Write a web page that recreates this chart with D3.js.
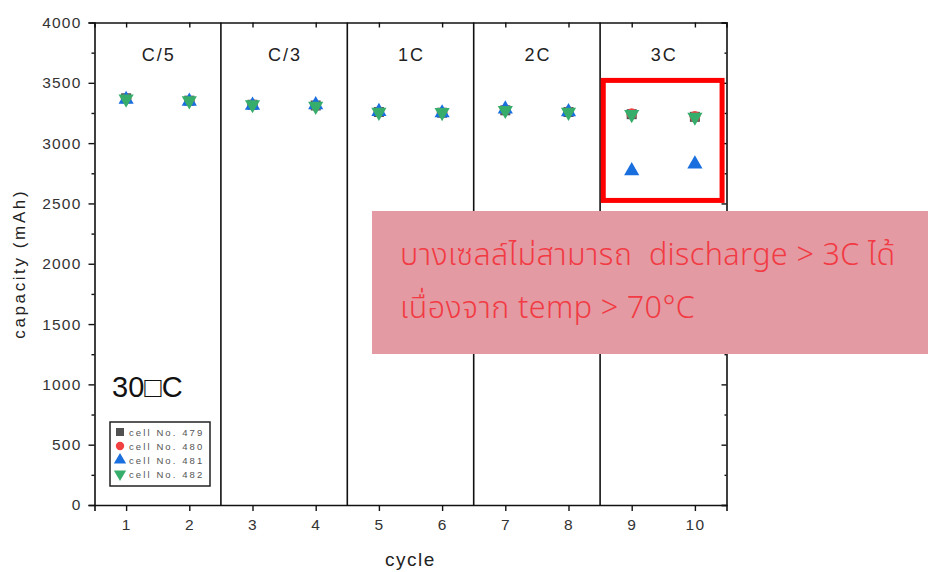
<!DOCTYPE html>
<html>
<head>
<meta charset="utf-8">
<script src="https://cdn.jsdelivr.net/npm/d3@7"></script>
<style>
  html, body { margin: 0; padding: 0; background: #fff; }
  svg { display: block; font-family: "Liberation Sans", Arial, sans-serif; }
</style>
</head>
<body>
<svg id="chart" width="928" height="572"></svg>
<script>
// cycle numbers and rate groups
const cycles = [1, 2, 3, 4, 5, 6, 7, 8, 9, 10];
const rateLabels = ['C/5', 'C/3', '1C', '2C', '3C'];
const rateBounds = [0.5, 2.5, 4.5, 6.5, 8.5, 10.5];

// capacity (mAh) per cell
const cell479 = [3372, 3352, 3318, 3312, 3258, 3252, 3272, 3258, 3240, 3218];
const cell480 = [3368, 3350, 3320, 3310, 3260, 3254, 3276, 3262, 3244, 3222];
const cell481 = [3362, 3346, 3314, 3318, 3262, 3250, 3282, 3260, 2770, 2826];
const cell482 = [3366, 3352, 3320, 3306, 3256, 3254, 3272, 3256, 3238, 3216];

const yTicks = [0, 500, 1000, 1500, 2000, 2500, 3000, 3500, 4000];

const series = [
  { name: 'cell No. 479', values: cell479, shape: d3.symbolSquare,   color: '#515151', rot: 0 },
  { name: 'cell No. 480', values: cell480, shape: d3.symbolCircle,   color: '#F14040', rot: 0 },
  { name: 'cell No. 481', values: cell481, shape: d3.symbolTriangle, color: '#1A6FDF', rot: 0 },
  { name: 'cell No. 482', values: cell482, shape: d3.symbolTriangle, color: '#37AD6B', rot: 180 }
];

const svg = d3.select('#chart');
const plotL = 94.5, plotR = 726.5, plotT = 22.5, plotB = 505;

const x = d3.scaleLinear().domain([0.5, 10.5]).range([plotL, plotR]);
const y = d3.scaleLinear().domain([0, 4000]).range([plotB, plotT]);

// separators between rate groups
svg.append('g').selectAll('line')
  .data(rateBounds.slice(1, -1))
  .enter().append('line')
    .attr('x1', d => x(d)).attr('x2', d => x(d))
    .attr('y1', plotT).attr('y2', plotB)
    .attr('stroke', '#111').attr('stroke-width', 1.6);

// group labels
svg.append('g').selectAll('text')
  .data(rateLabels)
  .enter().append('text')
    .attr('x', (d, i) => x((rateBounds[i] + rateBounds[i + 1]) / 2) + 1)
    .attr('y', 61)
    .attr('text-anchor', 'middle')
    .attr('font-size', 18)
    .attr('letter-spacing', 2)
    .attr('fill', '#222')
    .text(d => d);

// axes
const yMinor = d3.range(0, 4001, 250).filter(v => v % 500 !== 0);
const tickFont = sel => sel.selectAll('.tick text')
  .attr('font-size', 15.5).attr('letter-spacing', 1.2).attr('fill', '#333')
  .attr('font-family', '"Liberation Sans", Arial, sans-serif');

svg.append('g').attr('transform', `translate(${plotL},0)`)
  .call(d3.axisLeft(y).tickValues(yTicks).tickSize(6).tickPadding(7).tickFormat(d3.format('d')))
  .call(tickFont);
svg.append('g').attr('transform', `translate(${plotL},0)`)
  .call(d3.axisLeft(y).tickValues(yMinor).tickSize(3).tickFormat(''))
  .select('.domain').remove();

svg.append('g').attr('transform', `translate(${plotR},0)`)
  .call(d3.axisLeft(y).tickValues(yTicks).tickSize(5).tickFormat(''));
svg.append('g').attr('transform', `translate(${plotR},0)`)
  .call(d3.axisLeft(y).tickValues(yMinor).tickSize(2).tickFormat(''))
  .select('.domain').remove();

svg.append('g').attr('transform', `translate(0,${plotB})`)
  .call(d3.axisBottom(x).tickValues(cycles).tickSize(6).tickPadding(8).tickFormat(d3.format('d')))
  .call(tickFont);

svg.append('g').attr('transform', `translate(0,${plotT})`)
  .call(d3.axisBottom(x).tickValues(cycles).tickSize(5).tickFormat(''));

svg.selectAll('.domain').attr('stroke', '#111').attr('stroke-width', 1.6);
svg.selectAll('.tick line').attr('stroke', '#111').attr('stroke-width', 1.4);

// axis titles
svg.append('text')
  .attr('transform', `translate(25,${(plotT + plotB) / 2}) rotate(-90)`)
  .attr('text-anchor', 'middle')
  .attr('font-size', 17).attr('letter-spacing', 2.6).attr('fill', '#222')
  .text('capacity (mAh)');
svg.append('text')
  .attr('x', x(5.5)).attr('y', 566)
  .attr('text-anchor', 'middle')
  .attr('font-size', 19).attr('letter-spacing', 1.5).attr('fill', '#222')
  .text('cycle');

// markers
series.forEach(s => {
  svg.append('g').selectAll('path')
    .data(s.values)
    .enter().append('path')
      .attr('d', d3.symbol().type(s.shape).size(s.shape === d3.symbolCircle ? 90 : 100))
      .attr('transform', (d, i) => `translate(${x(cycles[i])},${y(d)}) rotate(${s.rot})`)
      .attr('fill', s.color);
});

// highlight around 3C group
svg.append('rect')
  .attr('x', x(8.55)).attr('y', y(3520))
  .attr('width', x(10.43) - x(8.55)).attr('height', y(2525) - y(3520))
  .attr('fill', 'none').attr('stroke', '#ff0000').attr('stroke-width', 5);

// temperature label
svg.append('text')
  .attr('x', 112).attr('y', 397)
  .attr('font-size', 29).attr('fill', '#111')
  .attr('font-family', '"Liberation Sans", Arial, sans-serif')
  .text('30\u25A1C');

// legend
const legend = svg.append('g').attr('transform', 'translate(110,422)');
legend.append('rect').attr('width', 100).attr('height', 64)
  .attr('fill', '#fff').attr('stroke', '#222').attr('stroke-width', 1.5);
series.forEach((s, i) => {
  const row = legend.append('g').attr('transform', `translate(10,${10 + i * 14})`);
  row.append('path')
    .attr('d', d3.symbol().type(s.shape).size(s.shape === d3.symbolCircle ? 55 : 65))
    .attr('transform', `rotate(${s.rot})`)
    .attr('fill', s.color);
  row.append('text').attr('x', 9).attr('y', 3.5)
    .attr('font-size', 9.5).attr('letter-spacing', 2.1).attr('fill', '#555')
    .text(s.name);
});

// annotation box
svg.append('rect')
  .attr('x', 372).attr('y', 211).attr('width', 556).attr('height', 143)
  .attr('fill', '#e39aa2');
const note = svg.append('text')
  .attr('font-size', 30.5).attr('font-weight', 300).attr('letter-spacing', 0.4)
  .attr('fill', '#f23a44')
  .attr('xml:space', 'preserve')
  .style('white-space', 'pre')
  .attr('font-family', '"Noto Sans Thai", "Noto Sans", "DejaVu Sans", sans-serif');
note.append('tspan').attr('x', 400).attr('y', 265).text('บางเซลล์ไม่สามารถ  discharge > 3C ได้');
note.append('tspan').attr('x', 400).attr('y', 318).text('เนื่องจาก temp > 70°C');
</script>
</body>
</html>
